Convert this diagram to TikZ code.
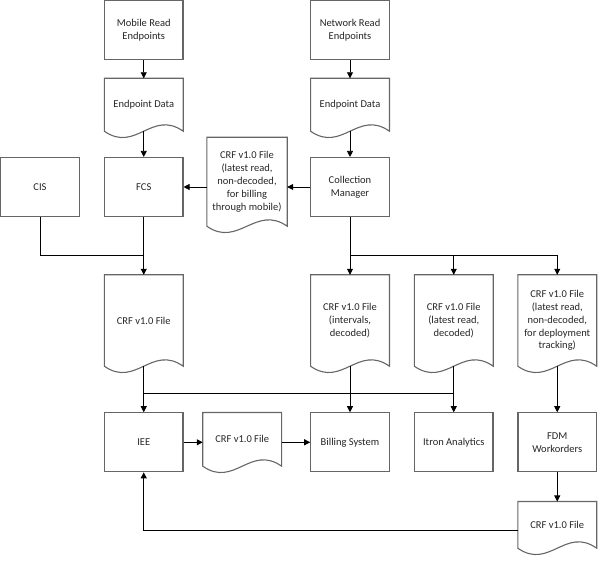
\documentclass[tikz,border=0pt]{standalone}
\usepackage{fontspec}
\setmainfont{Carlito}
\usetikzlibrary{arrows.meta,calc}
\newcommand\dgfont{\fontsize{10.5}{12.8}\selectfont}
\newcommand\docoutline[1]{\draw[boxline] (#1.south west) .. controls +(31.4,22) and +(-31.4,-22) .. (#1.south east) -- (#1.north east) -- (#1.north west) -- cycle;}
\begin{document}
\begin{tikzpicture}[x=1pt,y=-1pt,
  boxline/.style={draw=black!60, line width=1.1pt},
  proc/.style={boxline, fill=white, minimum width=78.5pt, minimum height=59pt, inner sep=1pt, align=center, font=\dgfont, text=black!85},
  docu/.style={minimum width=78.5pt, inner sep=1pt, align=center, font=\dgfont, text=black!85},
  conn/.style={draw=black, line width=0.8pt},
  arr/.style={conn, -{Triangle[length=6pt,width=6pt]}}]
\useasboundingbox (0,0) rectangle (598,561);
% row 1
\node[proc] (mre) at (143.75,30) {Mobile Read\\Endpoints};
\node[proc] (nre) at (350,30) {Network Read\\Endpoints};
% row 2
\node[docu, minimum height=52.5pt] (ed1) at (143.75,104.75) {Endpoint Data};
\node[docu, minimum height=52.5pt] (ed2) at (350,104.75) {Endpoint Data};
\docoutline{ed1}
\docoutline{ed2}
% row 3
\node[proc] (cis) at (40,187) {CIS};
\node[proc] (fcs) at (143.75,187) {FCS};
\node[proc] (cm) at (350,187) {Collection\\Manager};
\node[docu, minimum width=80pt, minimum height=88.5pt] (crfm) at (247,181.75) {CRF v1.0 File\\(latest read,\\non-decoded,\\for billing\\through mobile)};
\docoutline{crfm}
% row 4
\node[docu, minimum height=91pt] (crf1) at (143.75,320.5) {CRF v1.0 File};
\node[docu, minimum height=91pt] (crf2) at (350,320.5) {CRF v1.0 File\\(intervals,\\decoded)};
\node[docu, minimum height=91pt] (crf3) at (453.75,320.5) {CRF v1.0 File\\(latest read,\\decoded)};
\node[docu, minimum height=91pt] (crf4) at (557.25,320.5) {CRF v1.0 File\\(latest read,\\non-decoded,\\for deployment\\tracking)};
\docoutline{crf1}
\docoutline{crf2}
\docoutline{crf3}
\docoutline{crf4}
% row 5
\node[proc] (iee) at (143.75,442.3) {IEE};
\node[docu, minimum height=53.3pt] (crfb) at (242.2,439.35) {CRF v1.0 File};
\docoutline{crfb}
\node[proc] (bill) at (350,442.3) {Billing System};
\node[proc] (itron) at (453.75,442.3) {Itron Analytics};
\node[proc] (fdm) at (557.25,442.3) {FDM\\Workorders};
% row 6
\node[docu, minimum height=46.3pt] (crfd) at (557.25,524.85) {CRF v1.0 File};
\docoutline{crfd}
% junctions
\coordinate (j1) at (143.75,255.7);
\coordinate (j2) at (350,255.7);
\coordinate (j3) at (453.75,393.3);
\coordinate (j4) at (143.75,393.3);
\coordinate (r1) at ($(crfd.west)+(0,6)$);
% connectors
\draw[arr] (mre.south) -- (ed1.north);
\draw[arr] (nre.south) -- (ed2.north);
\draw[arr] (ed1.south) -- (fcs.north);
\draw[arr] (ed2.south) -- (cm.north);
\draw[arr] (cm.west) -- (cm.west -| crfm.east);
\draw[arr] (crfm.west |- fcs.east) -- (fcs.east);
\draw[arr] (fcs.south) -- (crf1.north);
\draw[conn] (cis.south) |- (j1);
\draw[arr] (cm.south) -- (crf2.north);
\draw[arr] (j2) -| (crf3.north);
\draw[arr] (j2) -| (crf4.north);
\draw[arr] (crf1.south) -- (iee.north);
\draw[arr] (crf2.south) -- (bill.north);
\draw[arr] (crf3.south) -- (itron.north);
\draw[conn] (j3) -- (j4);
\draw[arr] (crf4.south) -- (fdm.north);
\draw[arr] (iee.east) -- (iee.east -| crfb.west);
\draw[arr] (crfb.east |- bill.west) -- (bill.west);
\draw[arr] (fdm.south) -- (crfd.north);
\draw[arr] (r1) -| (iee.south);
\end{tikzpicture}
\end{document}
